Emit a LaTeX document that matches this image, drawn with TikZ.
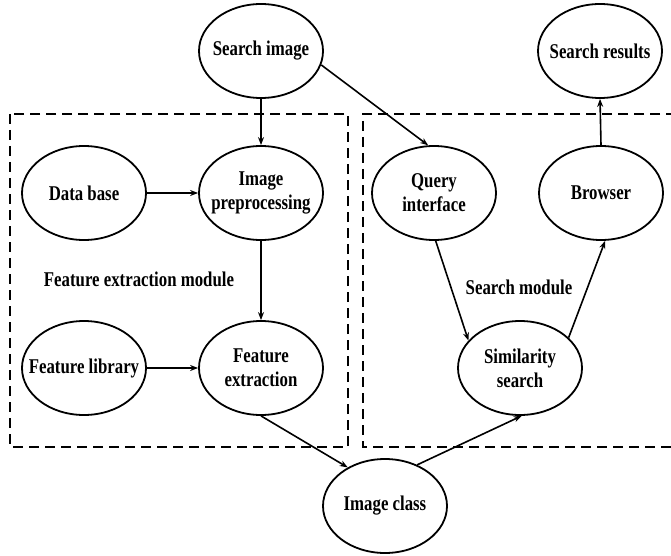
\documentclass[tikz,border=0pt]{standalone}
\usepackage{fontspec}
\setmainfont{Liberation Serif}[FakeStretch=0.8]
\usetikzlibrary{shapes.geometric,arrows.meta}
\begin{document}
\begin{tikzpicture}[x=1pt,y=-1pt,
  blob/.style={draw,line width=1.8pt,ellipse,minimum width=124pt,minimum height=94pt,inner xsep=-18pt,inner ysep=0pt,align=center,font=\fontsize{21}{24}\selectfont\bfseries},
  arr/.style={line width=1.6pt,-{Stealth[length=8pt,width=6pt]}},
  box/.style={line width=1.9pt,dash pattern=on 10pt off 6pt},
  lbl/.style={font=\fontsize{21}{24}\selectfont\bfseries}]
\useasboundingbox (0,0) rectangle (671,556);
\draw[box] (10,114) rectangle (348,447);
\draw[box] (676,114) -- (363,114) -- (363,447) -- (676,447);
\node[blob] (si) at (261,51) {Search image};
\node[blob] (sr) at (600,51) {Search results};
\node[blob] (db) at (84,193) {Data base};
\node[blob] (ip) at (261,193) {Image\\preprocessing};
\node[blob] (qi) at (434,193) {Query\\interface};
\node[blob] (br) at (601,193) {Browser};
\node[blob] (fl) at (84,368) {Feature library};
\node[blob] (fe) at (261,368) {Feature\\extraction};
\node[blob] (ss) at (520,368) {Similarity\\search};
\node[blob] (ic) at (385,506) {Image class};
\node[lbl] (fem) at (139,279) {Feature extraction module};
\node[lbl] (sm) at (519,287) {Search module};
\draw[arr] (si.south) -- (ip.north);
\draw[arr] (si.-13) -- (qi.97);
\draw[arr] (db.east) -- (ip.west);
\draw[arr] (ip.south) -- (fe.north);
\draw[arr] (fl.east) -- (fe.west);
\draw[arr] (fe.south) -- (ic.134);
\draw[arr] (ic.52) -- (ss.-88);
\draw[arr] (qi.-88) -- (ss.152);
\draw[arr] (ss.32) -- (br.-85);
\draw[arr] (br.north) -- (sr.south);
\end{tikzpicture}
\end{document}
